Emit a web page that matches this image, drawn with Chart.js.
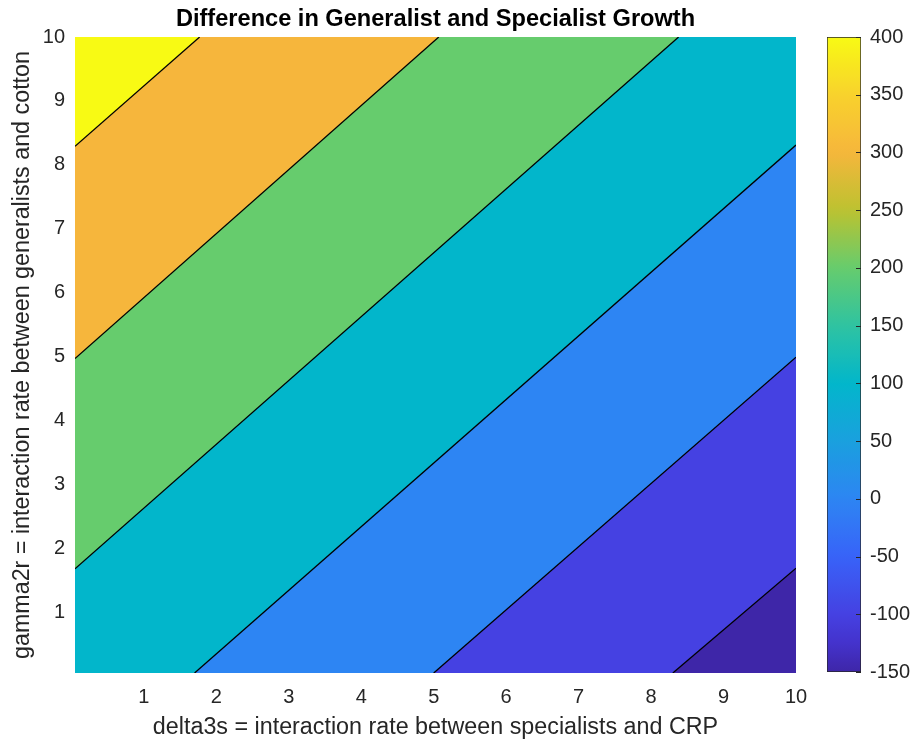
<!DOCTYPE html>
<html>
<head>
<meta charset="utf-8">
<script src="https://cdn.jsdelivr.net/npm/chart.js@4.4.1/dist/chart.umd.min.js"></script>
<style>
html,body{margin:0;padding:0;background:#fff;}
#wrap{position:relative;width:912px;height:743px;overflow:hidden;}
.box{position:absolute;top:0;}
</style>
</head>
<body>
<div id="wrap">
  <div class="box" style="left:0;width:912px;height:743px;"><canvas id="main"></canvas></div>
  <div class="box" style="left:800px;width:112px;height:743px;"><canvas id="cbar"></canvas></div>
</div>
<script>
// ---------------- data ----------------
const chartTitle = 'Difference in Generalist and Specialist Growth';
const xLabel = 'delta3s = interaction rate between specialists and CRP';
const yLabel = 'gamma2r = interaction rate between generalists and cotton';
const xLimits = [0.05, 10];
const yLimits = [0.05, 10];
const xTicks = [1, 2, 3, 4, 5, 6, 7, 8, 9, 10];
const yTicks = [1, 2, 3, 4, 5, 6, 7, 8, 9, 10];
// contour levels and the end points of each contour line (delta3s, gamma2r)
const contourLevels = [-100, 0, 100, 200, 300, 400];
const contourX = [[8.30, 10], [5.00, 10], [1.70, 10], [0.05, 8.38], [0.05, 5.07], [0.05, 1.77]];
const contourY = [[0.05, 1.69], [0.05, 4.99], [0.05, 8.31], [1.68, 10], [4.97, 10], [8.29, 10]];
// value whose colour fills each band (lowest band first)
const bandValues = [-150, -100, 0, 100, 200, 300, 400];
const colorbarRange = [-150, 400];
const colorbarTicks = [-150, -100, -50, 0, 50, 100, 150, 200, 250, 300, 350, 400];

// ---------------- colormap (parula-like) ----------------
const cmapValues = [-150, -125, -100, -50, 0, 50, 100, 150, 200, 250, 300, 350, 400];
const cmapColors = ['#3e26a8', '#4433cc', '#4541e2', '#3863f8', '#2d85f3', '#1aa0de', '#02b6cb',
                    '#2fc3a1', '#66cc6d', '#bcc230', '#f6b63c', '#f8d22c', '#f8fa14'];
function hexRgb(h){return [parseInt(h.slice(1,3),16),parseInt(h.slice(3,5),16),parseInt(h.slice(5,7),16)];}
function cmap(v){
  if (v <= cmapValues[0]) return cmapColors[0];
  for (let i = 1; i < cmapValues.length; i++) {
    if (v <= cmapValues[i]) {
      const t = (v - cmapValues[i-1]) / (cmapValues[i] - cmapValues[i-1]);
      const a = hexRgb(cmapColors[i-1]), b = hexRgb(cmapColors[i]);
      const c = a.map((q, k) => Math.round(q + (b[k] - q) * t));
      return 'rgb(' + c.join(',') + ')';
    }
  }
  return cmapColors[cmapColors.length - 1];
}

// ---------------- build band polygons from contour lines ----------------
const [X0, X1] = xLimits, [Y0, Y1] = yLimits;
const corners = [{x:X0,y:Y0},{x:X1,y:Y0},{x:X1,y:Y1},{x:X0,y:Y1}];
function perimPos(p){
  const e = 1e-9;
  if (Math.abs(p.y - Y0) < e) return (p.x - X0) / (X1 - X0);
  if (Math.abs(p.x - X1) < e) return 1 + (p.y - Y0) / (Y1 - Y0);
  if (Math.abs(p.y - Y1) < e) return 2 + (X1 - p.x) / (X1 - X0);
  return 3 + (Y1 - p.y) / (Y1 - Y0);
}
function regionAbove(pts){
  const ps = perimPos(pts[0]), pe = perimPos(pts[pts.length - 1]);
  const target = ps <= pe ? ps + 4 : ps;
  const poly = pts.slice();
  for (let c = Math.floor(pe) + 1; c < target; c++) poly.push(corners[c % 4]);
  return poly;
}
const contourLines = contourLevels.map((lv, i) => contourX[i].map((x, k) => ({x, y: contourY[i][k]})));

const datasets = [];
bandValues.forEach((v, i) => {
  const poly = i === 0 ? corners.slice() : regionAbove(contourLines[i-1]);
  datasets.push({
    data: poly, fill: 'shape', backgroundColor: cmap(v), borderWidth: 0,
    pointRadius: 0, pointHoverRadius: 0, order: 100 - i, tension: 0
  });
});
contourLines.forEach(line => {
  datasets.push({
    data: line, fill: false, borderColor: '#000', borderWidth: 1.3,
    pointRadius: 0, pointHoverRadius: 0, order: 0, tension: 0
  });
});

Chart.defaults.font.family = "'Liberation Sans', Arial, Helvetica, sans-serif";
Chart.defaults.color = '#262626';

const tickFont = {size: 20};
const labelFont = {size: 23.3};

new Chart(document.getElementById('main'), {
  type: 'line',
  data: {datasets},
  options: {
    responsive: true, maintainAspectRatio: false, animation: false, events: [],
    layout: {padding: {left: 0, top: 0, right: 116, bottom: 0}},
    plugins: {
      legend: {display: false}, tooltip: {enabled: false},
      title: {display: true, text: chartTitle, fullSize: false, color: '#000',
              font: {size: 23.6, weight: 'bold'}, padding: {top: 5, bottom: 3.7}}
    },
    scales: {
      x: {
        type: 'linear', min: xLimits[0], max: xLimits[1],
        afterBuildTicks: s => { s.ticks = xTicks.map(v => ({value: v})); },
        afterFit: s => { s.height = 70; },
        grid: {display: false, drawTicks: false}, border: {display: false},
        ticks: {font: tickFont, color: '#262626', padding: 12, maxRotation: 0, autoSkip: false,
                callback: v => String(v)},
        title: {display: true, text: xLabel, font: labelFont, color: '#262626', padding: {top: 0, bottom: 1}}
      },
      y: {
        type: 'linear', min: yLimits[0], max: yLimits[1],
        afterBuildTicks: s => { s.ticks = yTicks.map(v => ({value: v})); },
        afterFit: s => { s.width = 75; },
        grid: {display: false, drawTicks: false}, border: {display: false},
        ticks: {font: tickFont, color: '#262626', padding: 10, autoSkip: false, callback: v => String(v)},
        title: {display: true, text: yLabel, font: labelFont, color: '#262626', padding: {top: 9, bottom: 0}}
      }
    }
  }
});

// ---------------- colorbar ----------------
const cbarTickPlugin = {
  id: 'cbarTicks',
  afterDatasetsDraw(chart) {
    const {ctx, chartArea} = chart, s = chart.scales.y;
    ctx.save();
    ctx.strokeStyle = '#262626'; ctx.lineWidth = 1;
    ctx.beginPath();
    s.ticks.forEach(t => {
      const py = Math.round(s.getPixelForValue(t.value)) + 0.5;
      ctx.moveTo(chartArea.right - 5, py); ctx.lineTo(chartArea.right, py);
    });
    ctx.stroke();
    ctx.restore();
  }
};

new Chart(document.getElementById('cbar'), {
  type: 'bar',
  data: {
    labels: [''],
    datasets: [{
      data: [colorbarRange],
      backgroundColor: (c) => {
        const chart = c.chart, s = chart.scales.y;
        if (!chart.chartArea || !s) return cmap(0);
        const g = chart.ctx.createLinearGradient(0, s.getPixelForValue(colorbarRange[0]), 0, s.getPixelForValue(colorbarRange[1]));
        const n = 64;
        for (let i = 0; i <= n; i++) {
          const v = colorbarRange[0] + (colorbarRange[1] - colorbarRange[0]) * i / n;
          g.addColorStop(i / n, cmap(v));
        }
        return g;
      },
      borderColor: '#262626', borderWidth: 1, borderSkipped: false,
      barPercentage: 1, categoryPercentage: 1
    }]
  },
  options: {
    responsive: true, maintainAspectRatio: false, animation: false, events: [],
    layout: {padding: {left: 27, top: 37, bottom: 71, right: 0}},
    plugins: {legend: {display: false}, tooltip: {enabled: false}},
    scales: {
      x: {display: false},
      y: {
        position: 'right', min: colorbarRange[0], max: colorbarRange[1],
        afterBuildTicks: s => { s.ticks = colorbarTicks.map(v => ({value: v})); },
        afterFit: s => { s.width = 51; },
        grid: {display: false, drawTicks: false}, border: {display: false},
        ticks: {font: tickFont, color: '#262626', padding: 9, autoSkip: false, callback: v => String(v)}
      }
    }
  },
  plugins: [cbarTickPlugin]
});
</script>
</body>
</html>
